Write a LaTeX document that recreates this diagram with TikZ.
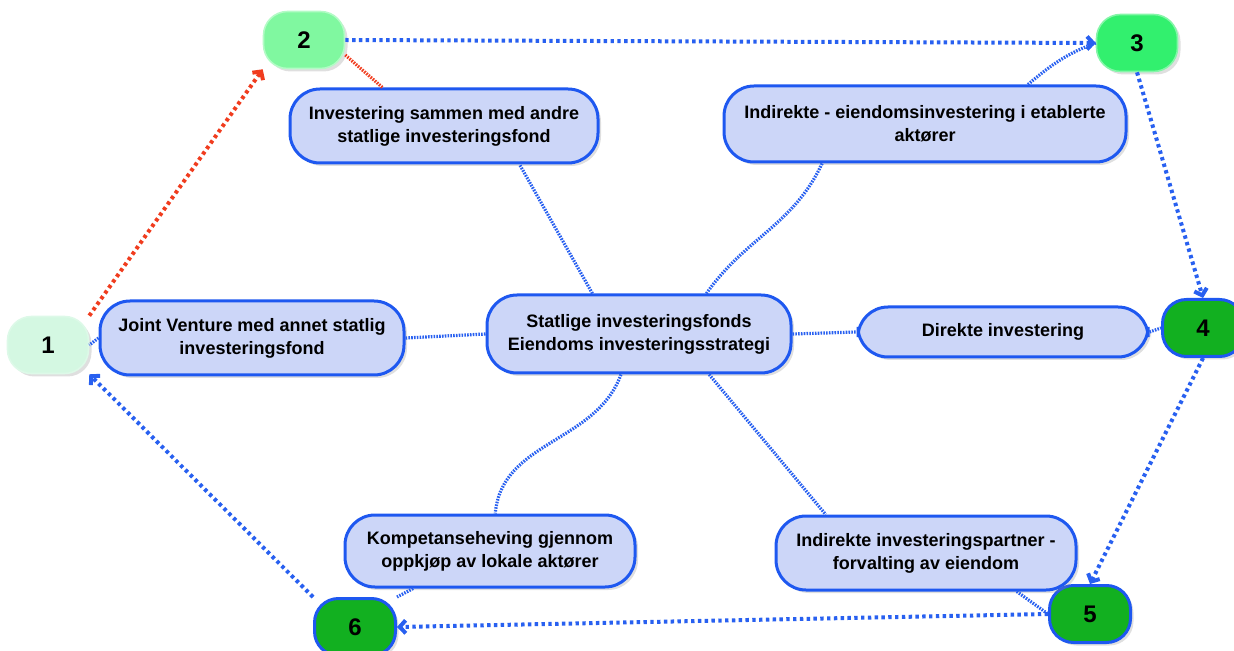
\documentclass[tikz,border=0pt]{standalone}
\usepackage{fontspec}
\setmainfont{Liberation Sans}
\usetikzlibrary{arrows.meta,shadows}

\definecolor{boxfill}{RGB}{204,214,248}
\definecolor{boxline}{RGB}{30,88,240}
\definecolor{linkblue}{RGB}{40,96,240}
\definecolor{linkred}{RGB}{240,60,30}
\definecolor{stepone}{RGB}{212,248,226}
\definecolor{steptwo}{RGB}{128,248,160}
\definecolor{stepthree}{RGB}{50,240,110}
\definecolor{stepdark}{RGB}{18,176,32}

\tikzset{
    topic/.style={draw=boxline, fill=boxfill, line width=1.5pt,
    rounded corners=15pt, align=center, inner sep=0pt,
    font=\bfseries\fontsize{9}{11.5}\selectfont,
    drop shadow={shadow xshift=1.5pt, shadow yshift=-1.5pt, opacity=0.25}},
    stage/.style={rounded corners=12pt, minimum width=40.5pt,
    minimum height=28.5pt, inner sep=0pt, line width=0.8pt,
    font=\bfseries\fontsize{12}{14}\selectfont,
    drop shadow={shadow xshift=1.5pt, shadow yshift=-1.5pt, opacity=0.25}},
    stagedark/.style={stage, fill=stepdark, draw=boxline, line width=1.5pt},
    spoke/.style={draw=linkblue, line width=1.6pt,
    dash pattern=on 0.8pt off 0.6pt},
    loopline/.style={draw=linkblue, line width=2pt,
    dash pattern=on 1.7pt off 1.7pt,
    -{Straight Barb[length=3pt,width=6.5pt]}}
}

\begin{document}
\begin{tikzpicture}[x=0.5pt,y=-0.5pt]

    \useasboundingbox (0,0) rectangle (1234,651);

    \node[stage, fill=stepone, draw=stepone!80!white] (n1) at (48,345) {1};
    \node[stage, fill=steptwo, draw=steptwo!60!white] (n2) at (304,40) {2};
    \node[stage, fill=stepthree, draw=stepthree!60!white] (n3) at (1137,43) {3};
    \node[stagedark] (n4) at (1203,328) {4};
    \node[stagedark] (n5) at (1090,614) {5};
    \node[stagedark] (n6) at (355,627) {6};

    \node[topic, minimum width=152pt, minimum height=39pt] (ctr) at (639,334)
    {Statlige investeringsfonds\\Eiendoms investeringsstrategi};

    \node[topic, minimum width=154pt, minimum height=37pt] (binv) at (444,126)
    {Investering sammen med andre\\statlige investeringsfond};

    \node[topic, minimum width=201pt, minimum height=38pt] (bind) at (925,124)
    {Indirekte - eiendomsinvestering i etablerte\\aktører};

    \node[topic, minimum width=152pt, minimum height=37pt] (bjv) at (252,338)
    {Joint Venture med annet statlig\\investeringsfond};

    \node[topic, minimum width=145pt, minimum height=25pt] (bdir) at (1003,332)
    {Direkte investering};

    \node[topic, minimum width=145pt, minimum height=36pt] (bkomp) at (490,551)
    {Kompetanseheving gjennom\\oppkjøp av lokale aktører};

    \node[topic, minimum width=150pt, minimum height=37pt] (bforv) at (926,553)
    {Indirekte investeringspartner -\\forvalting av eiendom};

    % spokes from the centre
    \draw[spoke] (ctr.139) -- (binv.-27.5);
    \draw[spoke] (ctr.31) to[out=55,in=-115] (bind.201);
    \draw[spoke] (ctr.west) -- (bjv.east);
    \draw[spoke] (ctr.east) -- (bdir.west);
    \draw[spoke] (ctr.-114) to[out=-110,in=85] (bkomp.82);
    \draw[spoke] (ctr.-30) -- (bforv.159);

    % topics to steps
    \draw[spoke] (bjv.west) -- (n1.east);
    \draw[spoke] (bdir.east) -- (n4.west);
    \draw[spoke] (bkomp.-154) -- (n6.north east);
    \draw[spoke] (bforv.-23) -- (n5.west);
    \draw[spoke] (bind.21) to[out=40,in=200] (n3.west);
    \draw[spoke, draw=linkred] (n2.-20) -- (binv.148);

    % the cycle
    \draw[loopline, draw=linkred] (n1.north east) -- (n2.south west);
    \draw[loopline] (n2.east) -- (n3.west);
    \draw[loopline] (n3.south) -- (n4.north);
    \draw[loopline] (n4.south) -- (n5.north);
    \draw[loopline] (n5.west) -- (n6.east);
    \draw[loopline] (n6.north west) -- (n1.south east);

\end{tikzpicture}
\end{document}
